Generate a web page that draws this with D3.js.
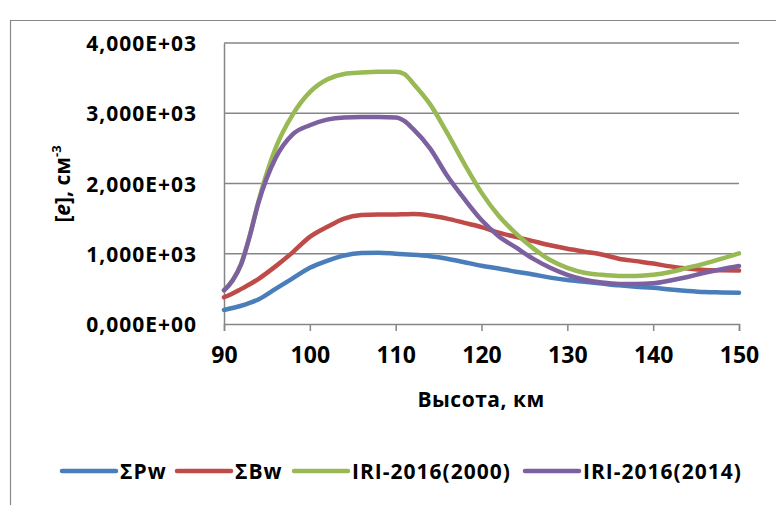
<!DOCTYPE html>
<html>
<head>
<meta charset="utf-8">
<style>
  body { margin: 0; background: #fff; }
  svg { display: block; }
  .tick-label { font-family: "Open Sans", sans-serif; font-weight: bold; fill: #000; }
  .grid line { stroke: #868686; stroke-width: 1.5; }
  .series { fill: none; stroke-width: 4.5; stroke-linejoin: round; stroke-linecap: round; }
</style>
<script src="https://d3js.org/d3.v7.min.js"></script>
</head>
<body>
<svg width="776" height="505"></svg>
<script>
// altitude, km
var altitudes = [90, 91, 92, 93, 94, 96, 98, 100, 102, 104, 106, 108, 110, 111, 112, 114, 116, 118,
                 120, 122, 124, 126, 128, 130, 132, 134, 136, 138, 140, 142, 144, 146, 148, 150];
// electron density, cm^-3
var sumPw   = [200, 228, 260, 300, 350, 500, 650, 800, 900, 975, 1010, 1015, 1000, 992, 985, 965, 930, 880,
               830, 790, 745, 705, 660, 625, 600, 575, 550, 530, 515, 490, 470, 455, 450, 445];
var sumBw   = [380, 435, 500, 565, 640, 820, 1020, 1240, 1380, 1500, 1550, 1560, 1560, 1562, 1565, 1545, 1500, 1440,
               1380, 1300, 1240, 1180, 1120, 1070, 1030, 990, 930, 895, 860, 820, 790, 770, 765, 760];
var iri2000 = [480, 620, 860, 1260, 1740, 2500, 2980, 3300, 3480, 3560, 3580, 3590, 3590, 3560, 3430, 3130, 2720, 2280,
               1870, 1540, 1290, 1080, 910, 800, 730, 700, 685, 685, 700, 740, 800, 860, 930, 1005];
var iri2014 = [480, 620, 850, 1250, 1720, 2360, 2700, 2830, 2910, 2940, 2945, 2945, 2940, 2890, 2780, 2500, 2110, 1780,
               1480, 1250, 1090, 930, 800, 700, 630, 590, 570, 570, 580, 620, 670, 730, 780, 825];
var seriesNames  = ["ΣPw", "ΣBw", "IRI-2016(2000)", "IRI-2016(2014)"];
var seriesColors = ["#4A7EBB", "#BE4B48", "#98B954", "#7D60A0"];
var xTicks = [90, 100, 110, 120, 130, 140, 150];
var yTicks = [0, 1000, 2000, 3000, 4000];
var yTickLabels = ["0,000E+00", "1,000E+03", "2,000E+03", "3,000E+03", "4,000E+03"];

var svg = d3.select("svg");
var m = { left: 224, right: 739, top: 43, bottom: 324 };

var x = d3.scaleLinear().domain([90, 150]).range([m.left, m.right]);
var y = d3.scaleLinear().domain([0, 4000]).range([m.bottom, m.top]);

// outer chart frame (cropped at right and bottom)
svg.append("path")
  .attr("d", "M10.5,505 L10.5,20.5 L776,20.5")
  .attr("fill", "none").attr("stroke", "#888").attr("stroke-width", 1.2);

// gridlines
svg.append("g").attr("class", "grid")
  .selectAll("line").data(yTicks.slice(1)).enter().append("line")
  .attr("x1", m.left).attr("x2", m.right)
  .attr("y1", function(d) { return y(d); }).attr("y2", function(d) { return y(d); });

// y axis
var yAxis = svg.append("g").attr("transform", "translate(" + m.left + ",0)")
  .call(d3.axisLeft(y).tickValues(yTicks).tickSize(0).tickPadding(27)
    .tickFormat(function(d, i) { return yTickLabels[i]; }));
yAxis.select(".domain").attr("stroke", "#868686").attr("stroke-width", 1.5);
yAxis.selectAll("text").attr("class", "tick-label")
  .style("font-size", "21px").style("letter-spacing", "1px").attr("dy", "0.36em");

// x axis
var xAxis = svg.append("g").attr("transform", "translate(0," + m.bottom + ")")
  .call(d3.axisBottom(x).tickValues(xTicks).tickSize(7).tickPadding(16));
xAxis.select(".domain").attr("stroke", "#868686").attr("stroke-width", 1.5);
xAxis.selectAll("line").attr("stroke", "#868686").attr("stroke-width", 1.5);
xAxis.selectAll("text").attr("class", "tick-label").style("font-size", "23px");

// axis titles
svg.append("text").attr("class", "tick-label")
  .attr("x", 481).attr("y", 407).attr("text-anchor", "middle")
  .style("font-size", "21px").style("letter-spacing", "0.5px").text("Высота, км");

var yt = svg.append("text").attr("class", "tick-label")
  .attr("transform", "translate(70,184) rotate(-90)").attr("text-anchor", "middle")
  .style("font-size", "21px");
yt.append("tspan").text("[");
yt.append("tspan").attr("font-style", "italic").text("e");
yt.append("tspan").text("], см");
yt.append("tspan").attr("dy", "-9").style("font-size", "13px").text("-3");

// series
var data = [sumPw, sumBw, iri2000, iri2014];
var line = d3.line()
  .x(function(d, i) { return x(altitudes[i]); })
  .y(function(d) { return y(d); })
  .curve(d3.curveMonotoneX);

svg.selectAll(".series").data(data).enter().append("path")
  .attr("class", "series")
  .attr("stroke", function(d, i) { return seriesColors[i]; })
  .attr("d", line);

// legend
var legendX = [62, 177, 294, 525];
var lg = svg.selectAll(".legend").data(seriesNames).enter().append("g")
  .attr("class", "legend")
  .attr("transform", function(d, i) { return "translate(" + legendX[i] + ",471)"; });
lg.append("line").attr("x1", 0).attr("x2", 54)
  .attr("stroke", function(d, i) { return seriesColors[i]; })
  .attr("stroke-width", 4.5).attr("stroke-linecap", "round");
lg.append("text").attr("class", "tick-label")
  .attr("x", 58).attr("dy", "0.36em").style("font-size", "21px").style("letter-spacing", "1px")
  .text(function(d) { return d; });
</script>
</body>
</html>
